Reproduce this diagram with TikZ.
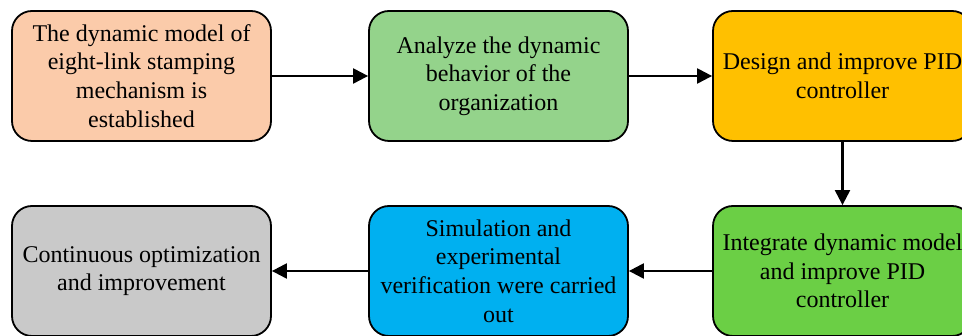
\documentclass[tikz,border=0pt]{standalone}
\usepackage{fontspec}
\setmainfont{Liberation Serif}
\usetikzlibrary{arrows.meta}
\definecolor{cpeach}{HTML}{FBCBAA}
\definecolor{cgreenA}{HTML}{94D38B}
\definecolor{corange}{HTML}{FFC000}
\definecolor{cgreenB}{HTML}{6BCF45}
\definecolor{cblue}{HTML}{00B0F0}
\definecolor{cgray}{HTML}{C9C9C9}
\tikzset{
  procbox/.style={draw=black, line width=1.8pt, rounded corners=20pt,
    minimum width=259pt, minimum height=130pt, align=center, inner sep=0pt,
    font=\fontsize{24pt}{28.7pt}\selectfont, text=black},
  flow/.style={line width=2.2pt, -{Triangle[length=15pt,width=15pt]}}
}
\begin{document}
\begin{tikzpicture}[x=1pt,y=1pt]
\useasboundingbox (0,0) rectangle (962,336);
\clip (0,0) rectangle (962,336);
\node[procbox, fill=cpeach] (b1) at (141.5,260) {The dynamic model of\\eight-link stamping\\mechanism is\\established};
\node[procbox, fill=cgreenA] (b2) at (498.5,260) {Analyze the dynamic\\behavior of the\\organization};
\node[procbox, fill=corange] (b3) at (842.5,260) {Design and improve PID\\controller};
\node[procbox, fill=cgreenB] (b4) at (842.5,65) {Integrate dynamic model\\and improve PID\\controller};
\node[procbox, fill=cblue] (b5) at (498.5,65) {Simulation and\\experimental\\verification were carried\\out};
\node[procbox, fill=cgray] (b6) at (141.5,65) {Continuous optimization\\and improvement};
\draw[flow] (b1) -- (b2);
\draw[flow] (b2) -- (b3);
\draw[flow] (b3) -- (b4);
\draw[flow] (b4) -- (b5);
\draw[flow] (b5) -- (b6);
\end{tikzpicture}
\end{document}
